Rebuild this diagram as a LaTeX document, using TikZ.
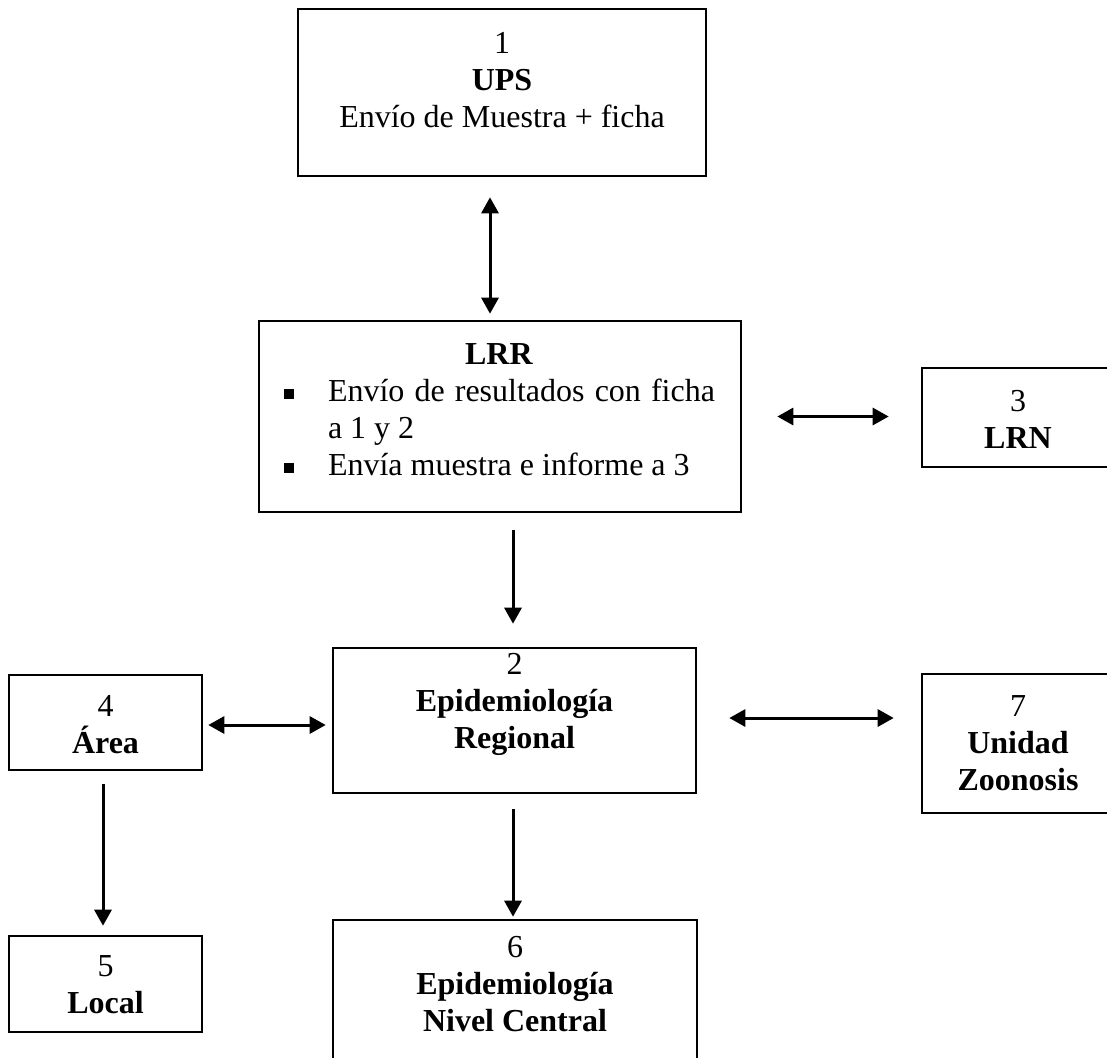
\documentclass[tikz,border=0pt]{standalone}
\usepackage{fontspec}
\setmainfont{Liberation Serif}
\usetikzlibrary{arrows.meta}

\tikzset{
  box/.style={draw, line width=1.3pt, inner sep=0pt},
  txt/.style={align=center, inner sep=0pt, font=\fontsize{16}{18.5}\selectfont},
  oneway/.style={line width=1.5pt, -{Triangle[length=8pt,width=8.5pt]}},
  twoway/.style={line width=1.5pt, {Triangle[length=8pt,width=8.5pt]}-{Triangle[length=8pt,width=8.5pt]}}
}
\newcommand{\sqitem}{\par\noindent\hangindent=22.5pt\hangafter=1
  \makebox[22.5pt][l]{\hspace{0.5pt}\rule[1.5pt]{5pt}{5pt}}}

\begin{document}
\begin{tikzpicture}[x=0.5pt,y=-0.5pt]
    \useasboundingbox (0,0) rectangle (1107,1057);
    \clip (0,0) rectangle (1107,1057);

    % Boxes
    \node [box, minimum width=204pt, minimum height=83.5pt] (ups) at (502,92.5) {};
    \node [box, minimum width=241pt, minimum height=95.5pt] (lrr) at (500,416.5) {};
    \node [box, minimum width=96pt, minimum height=49.5pt] (lrn) at (1018,417.5) {};
    \node [box, minimum width=181.5pt, minimum height=72.5pt] (regional) at (514.5,720.5) {};
    \node [box, minimum width=96.5pt, minimum height=47.5pt] (area) at (105.5,722.5) {};
    \node [box, minimum width=96pt, minimum height=69.5pt] (zoonosis) at (1018,743.5) {};
    \node [box, minimum width=96.5pt, minimum height=48pt] (local) at (105.5,984) {};
    \node [box, minimum width=182pt, minimum height=80pt] (central) at (515,1000) {};

    % Labels
    \node [txt] (upstext) at (502,80) {1\\\textbf{UPS}\\Envío de Muestra + ficha};
    \node [txt, text width=216pt, align=justify] (lrrtext) at (499,410) {%
        \centerline{\textbf{LRR}}%
        \sqitem Envío de resultados con ficha\linebreak a 1 y 2%
        \sqitem Envía muestra e informe a 3};
    \node [txt] (lrntext) at (1018,419) {3\\\textbf{LRN}};
    \node [txt] (regionaltext) at (514.5,704) {2\\\textbf{Epidemiología}\\\textbf{Regional}};
    \node [txt] (areatext) at (105.5,725) {4\\\textbf{Área}};
    \node [txt] (zoonosistext) at (1018,743.5) {7\\\textbf{Unidad}\\\textbf{Zoonosis}};
    \node [txt] (localtext) at (105.5,984.5) {5\\\textbf{Local}};
    \node [txt] (centraltext) at (515,984) {6\\\textbf{Epidemiología}\\\textbf{Nivel Central}};

    % Arrows
    \draw [twoway] ([xshift=-6pt,yshift=-10pt]ups.south) -- ([xshift=-5pt,yshift=3pt]lrr.north);
    \draw [twoway] ([xshift=17.5pt]lrr.east) -- ([xshift=-16pt,yshift=0.5pt]lrn.west);
    \draw [oneway] ([xshift=6.5pt,yshift=-8.5pt]lrr.south) -- ([xshift=-0.75pt,yshift=11.5pt]regional.north);
    \draw [twoway] ([xshift=2.5pt,yshift=-1.25pt]area.east) -- ([xshift=-3pt,yshift=-2.25pt]regional.west);
    \draw [twoway] ([xshift=16pt,yshift=1.25pt]regional.east) -- ([xshift=-13.5pt,yshift=12.75pt]zoonosis.west);
    \draw [oneway] ([xshift=-1.25pt,yshift=-6.5pt]area.south) -- ([xshift=-1.25pt,yshift=4.5pt]local.north);
    \draw [oneway] ([xshift=-0.75pt,yshift=-7.5pt]regional.south) -- ([xshift=-1pt,yshift=1pt]central.north);
\end{tikzpicture}
\end{document}
